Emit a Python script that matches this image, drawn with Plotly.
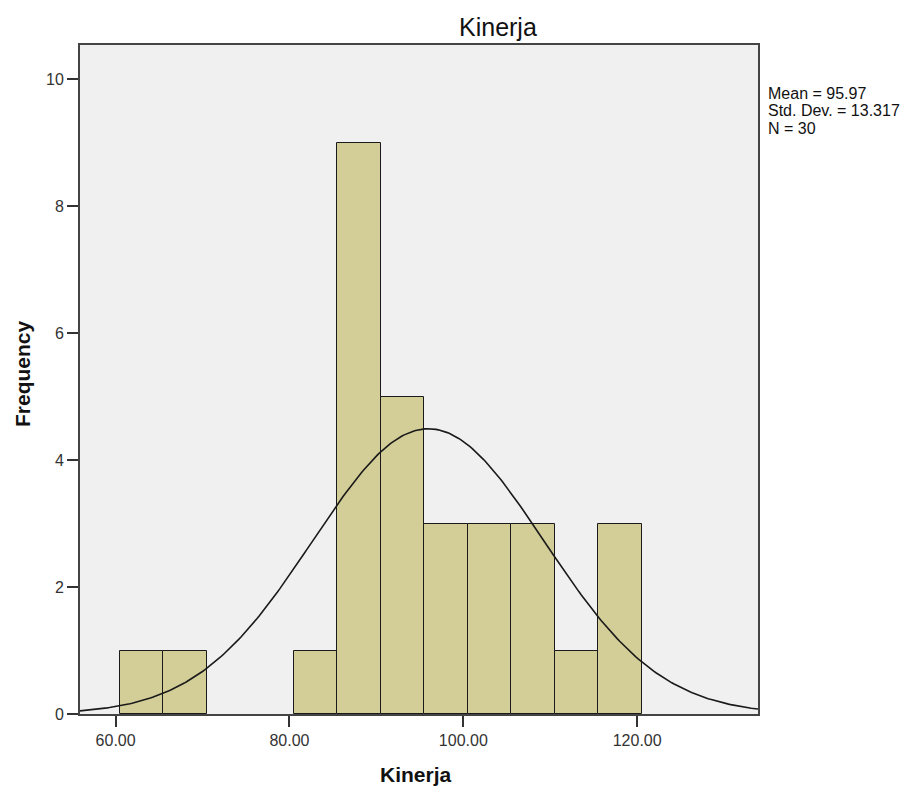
import numpy as np
import plotly.graph_objects as go

# Data
bin_centers = [63, 68, 83, 88, 93, 98, 103, 108, 113, 118]
frequencies = [1, 1, 1, 9, 5, 3, 3, 3, 1, 3]
bin_width = 5
mean_val = 95.97
std_val = 13.317
n_val = 30
x_ticks = [60, 80, 100, 120]
x_tick_labels = ["60.00", "80.00", "100.00", "120.00"]
y_ticks = [0, 2, 4, 6, 8, 10]
stat_lines = [f"Mean = {mean_val:.2f}", f"Std. Dev. = {std_val:.3f}", f"N = {n_val}"]

x_range = [55.9, 133.9]
y_range = [0, 10.54]

# Fitted normal curve (as drawn by SPSS)
xs = np.linspace(x_range[0], x_range[1], 300)
ys = n_val * bin_width * np.exp(-0.5 * ((xs - mean_val) / std_val) ** 2) / (std_val * np.sqrt(2 * np.pi))

fig = go.Figure()
fig.add_trace(go.Bar(
    x=bin_centers, y=frequencies, width=bin_width,
    marker=dict(color="#d3ce98", line=dict(color="#1a1a1a", width=1)),
    hoverinfo="x+y",
))
fig.add_trace(go.Scatter(
    x=xs, y=ys, mode="lines",
    line=dict(color="#1a1a1a", width=1.6),
    hoverinfo="skip",
))

# body margin removed via post_script -> no page offset
OFF = 0
W, H = 916, 788
L, R, T, B = 80, 158, 45, 74
PW, PH = W - L - R, H - T - B


def px(xp):
    return (xp - OFF - L) / PW


def py(yp):
    return 1 - (yp - OFF - T) / PH


FONT = "Liberation Sans, Arial, sans-serif"

fig.update_layout(
    width=W, height=H,
    margin=dict(l=L, r=R, t=T, b=B),
    paper_bgcolor="white",
    plot_bgcolor="#f0f0f0",
    showlegend=False,
    bargap=0,
    font=dict(family=FONT, color="#222222"),
    xaxis=dict(
        range=x_range, tickvals=x_ticks, ticktext=x_tick_labels,
        ticks="outside", ticklen=11, tickwidth=1.5, tickcolor="#333333",
        showline=True, linecolor="#444444", linewidth=2, mirror=True,
        showgrid=False, zeroline=False, automargin=False,
        tickfont=dict(size=16, color="#333333"),
    ),
    yaxis=dict(
        range=y_range, tickvals=y_ticks,
        ticks="outside", ticklen=11, tickwidth=1.5, tickcolor="#333333",
        showline=True, linecolor="#444444", linewidth=2, mirror=True,
        showgrid=False, zeroline=False, automargin=False,
        tickfont=dict(size=16, color="#333333"),
    ),
)

# Title and axis titles placed at fixed pixel positions
fig.add_annotation(xref="paper", yref="paper", x=px(498), y=py(27),
                   text="Kinerja", showarrow=False, xanchor="center", yanchor="middle",
                   font=dict(size=25, color="#111111"))
fig.add_annotation(xref="paper", yref="paper", x=px(416), y=py(775),
                   text="<b>Kinerja</b>", showarrow=False, xanchor="center", yanchor="middle",
                   font=dict(size=21, color="#111111"))
fig.add_annotation(xref="paper", yref="paper", x=px(22), y=py(374),
                   text="<b>Frequency</b>", showarrow=False, textangle=-90,
                   xanchor="center", yanchor="middle",
                   font=dict(size=21, color="#111111"))

for i, line in enumerate(stat_lines):
    fig.add_annotation(
        xref="paper", yref="paper", x=px(766), y=py(93 + 17.5 * i),
        xanchor="left", yanchor="middle",
        text=line, showarrow=False, align="left",
        font=dict(size=16, color="#111111", family=FONT),
    )

fig.write_html(
    "out.html",
    config={"displayModeBar": False},
    post_script="document.body.style.margin='0';document.body.style.overflow='hidden';",
)
